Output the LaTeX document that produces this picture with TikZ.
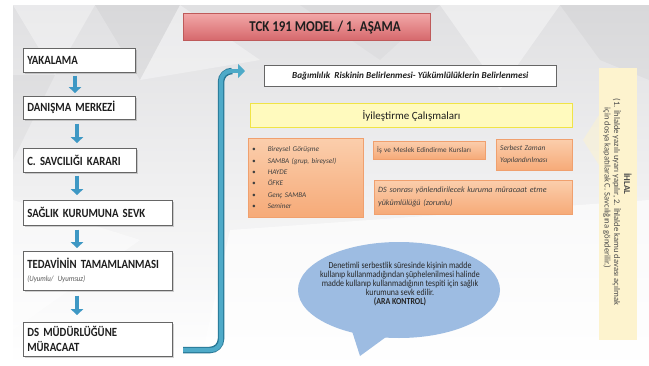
\documentclass[tikz,border=0pt]{standalone}
\usepackage{fontspec}
\setmainfont{Carlito}
\newfontfamily\condfont[FakeStretch=0.86]{Carlito}
\usetikzlibrary{arrows.meta,shadows,calc}
\definecolor{bggray}{RGB}{224,224,226}
\definecolor{arrowblue}{RGB}{62,152,196}
\definecolor{pipelight}{RGB}{78,170,200}
\definecolor{pipedark}{RGB}{40,120,150}
\definecolor{titletop}{RGB}{242,168,168}
\definecolor{titlebot}{RGB}{214,104,108}
\definecolor{titleedge}{RGB}{190,90,90}
\definecolor{orangetop}{RGB}{251,206,172}
\definecolor{orangebot}{RGB}{246,170,120}
\definecolor{orangeedge}{RGB}{240,160,110}
\definecolor{yelfill}{RGB}{255,250,190}
\definecolor{yeledge}{RGB}{240,228,70}
\definecolor{bubble}{RGB}{157,188,226}
\definecolor{ihlal}{RGB}{253,243,206}
\definecolor{txt}{RGB}{30,30,30}
\begin{document}
\begin{tikzpicture}[x=1pt,y=-1pt,
  lbox/.style={draw=black!60, line width=0.6pt, fill=white, anchor=north west, align=left,
    inner xsep=4pt, inner ysep=2pt, text=txt, font=\condfont\bfseries\fontsize{12.5}{14}\selectfont,
    drop shadow={shadow xshift=1.2pt, shadow yshift=-1.2pt, opacity=0.35}},
  obox/.style={draw=orangeedge, line width=0.4pt, top color=orangetop, bottom color=orangebot,
    anchor=north west, align=left, inner xsep=4pt, inner ysep=2pt, text=black!75,
    font=\itshape\fontsize{7.2}{11.4}\selectfont},
  dnarrow/.style={draw=arrowblue, line width=4.2pt, -{Triangle[length=6pt,width=12.5pt]}},
  pipeout/.style={draw=pipedark, line width=6.5pt, rounded corners=11pt},
  pipein/.style={draw=pipelight, line width=4.3pt, rounded corners=10pt},
  pipehead/.style={draw=pipelight, line width=4.3pt, -{Triangle[length=7pt,width=14pt]}},
  vtext/.style={rotate=-90, text=black!70, inner sep=0pt, font=\fontsize{8.6}{10}\selectfont}
]
\useasboundingbox (0,0) rectangle (649,365);
% background
\fill[white] (0,0) rectangle (649,365);
\shade[top color=bggray, bottom color=white] (13,5) rectangle (649,365);
\fill[white, opacity=0.35] (13,5) -- (95,5) -- (55,75) -- cycle;
\fill[black, opacity=0.03] (95,5) -- (180,5) -- (140,80) -- cycle;
\fill[white, opacity=0.35] (180,5) -- (260,60) -- (140,80) -- cycle;
\fill[black, opacity=0.03] (13,75) -- (55,75) -- (13,160) -- cycle;
\fill[white, opacity=0.4] (440,5) -- (560,5) -- (500,90) -- cycle;
\fill[black, opacity=0.03] (560,5) -- (649,5) -- (649,80) -- (600,60) -- cycle;
\fill[white, opacity=0.45] (13,200) -- (140,240) -- (13,330) -- cycle;
\fill[white, opacity=0.6] (230,230) -- (649,200) -- (649,365) -- (200,365) -- cycle;
\fill[black, opacity=0.025] (300,5) -- (440,5) -- (380,60) -- cycle;

% title
\node[draw=titleedge, line width=0.5pt, top color=titletop, bottom color=titlebot,
  anchor=north west, minimum width=247pt, minimum height=27pt, inner sep=0pt] (title) at (183,13) {};
\node[font=\condfont\bfseries\fontsize{15}{17}\selectfont, text=txt, anchor=center] (titletxt) at (325,27) {TCK 191 MODEL / 1. AŞAMA};

% left column
\node[lbox, text width=104pt, minimum height=24pt] (yak) at (23,48) {YAKALAMA};
\node[lbox, text width=104pt, minimum height=23pt] (dan) at (23,96) {DANIŞMA MERKEZİ};
\node[lbox, text width=105pt, minimum height=24pt] (sav) at (23,148) {C. SAVCILIĞI KARARI};
\node[lbox, text width=141pt, minimum height=25pt] (sag) at (23,200) {SAĞLIK KURUMUNA SEVK};
\node[lbox, text width=141pt, minimum height=39pt] (ted) at (23,251)
  {TEDAVİNİN TAMAMLANMASI\\[-1pt]{\mdseries\itshape\fontsize{8}{9}\selectfont\color{black!65}(Uyumlu/ Uyumsuz)}};
\node[lbox, text width=141pt, minimum height=34pt, font=\condfont\bfseries\fontsize{12.5}{15}\selectfont] (dsm) at (23,322) {DS MÜDÜRLÜĞÜNE\\MÜRACAAT};

\coordinate (ax1) at (75,0);
\coordinate (ax2) at (77,0);
\draw[dnarrow, shorten <=3pt, shorten >=3pt] (yak.south -| ax1) -- (dan.north -| ax1);
\draw[dnarrow, shorten <=4pt, shorten >=5pt] (dan.south -| ax2) -- (sav.north -| ax2);
\draw[dnarrow, shorten <=3pt, shorten >=5pt] (sav.south -| ax2) -- (sag.north -| ax2);
\draw[dnarrow, shorten <=4pt, shorten >=3pt] (sag.south -| ax2) -- (ted.north -| ax2);
\draw[dnarrow, shorten <=5pt, shorten >=7pt] (ted.south -| ax2) -- (dsm.north -| ax2);

% big pipe arrow
\coordinate (pipeS) at (183,350);
\coordinate (pipeC) at (221,350);
\coordinate (pipeT) at (221,71);
\coordinate (pipeM) at (232,71);
\coordinate (pipeE) at (245,71);
\draw[pipeout] (pipeS) -- (pipeC) -- (pipeT) -- (pipeM);
\draw[pipein] (pipeS) -- (pipeC) -- (pipeT) -- (pipeM);
\draw[pipehead] (pipeM) -- (pipeE);

% right side boxes
\node[draw=black!60, line width=0.6pt, fill=white, anchor=north west, minimum width=292pt,
  minimum height=21pt, inner sep=0pt, font=\bfseries\itshape\fontsize{9.2}{10}\selectfont, text=txt,
  drop shadow={shadow xshift=1pt, shadow yshift=-1pt, opacity=0.3}] (bag) at (264,65)
  {Bağımlılık\ \ Riskinin Belirlenmesi-\ Yükümlülüklerin Belirlenmesi};
\node[draw=yeledge, line width=1.2pt, fill=yelfill, anchor=north west, minimum width=322pt,
  minimum height=24pt, inner sep=0pt, font=\fontsize{11}{13}\selectfont, text=txt] (iyi) at (250,103)
  {İyileştirme Çalışmaları};

\node[obox, text width=107pt, minimum height=79pt] (list) at (248,138)
  {•\hspace{12pt}Bireysel Görüşme\\•\hspace{12pt}SAMBA (grup, bireysel)\\•\hspace{12pt}HAYDE\\•\hspace{12pt}ÖFKE\\•\hspace{12pt}Genç SAMBA\\•\hspace{12pt}Seminer};
\node[obox, text width=104pt, minimum height=18pt, font=\fontsize{7.2}{9}\selectfont] (kurs) at (373,141)
  {İş ve Meslek\ Edindirme\ Kursları};
\node[obox, text width=68pt, minimum height=31pt, font=\itshape\fontsize{7.4}{12.5}\selectfont] (serb) at (496,139)
  {Serbest Zaman\\Yapılandırılması};
\node[obox, text width=190pt, minimum height=34pt, font=\itshape\fontsize{8.1}{13}\selectfont] (dss) at (374,180)
  {DS sonrası yönlendirilecek kuruma müracaat etme\\yükümlülüğü (zorunlu)};

% ihlal box
\fill[ihlal, opacity=0.5] (599,115) -- (583,140) -- (599,165) -- cycle;
\node[fill=ihlal, anchor=north west, minimum width=38pt, minimum height=272pt, inner sep=0pt] (ihl) at (599,68) {};
\node[vtext, font=\bfseries\fontsize{9}{10}\selectfont] (ihlhead) at (628,184) {İHLAL};
\node[vtext] (ihl1) at (617,202) {(1. İhlalde\ yazılı\ uyarı\ yapılır, 2. İhlalde\ kamu\ davası\ açılmak};
\node[vtext] (ihl2) at (607,188) {için\ dosya\ kapatılarak\ C. Savcılığına\ gönderilir.)};

% speech bubble
\fill[bubble] (399,290) ellipse [x radius=101, y radius=48];
\fill[bubble] (352,331) -- (360,356) -- (386,337) -- cycle;
\node[align=center, text=black!85, font=\condfont\fontsize{9.2}{9.2}\selectfont] (bubtxt) at (400,284)
  {Denetimli serbestlik süresinde kişinin madde\\kullanıp kullanmadığından şüphelenilmesi halinde\\madde kullanıp kullanmadığının tespiti için sağlık\\kurumuna\ sevk edilir.\\{\bfseries (ARA KONTROL)}};
\end{tikzpicture}
\end{document}
